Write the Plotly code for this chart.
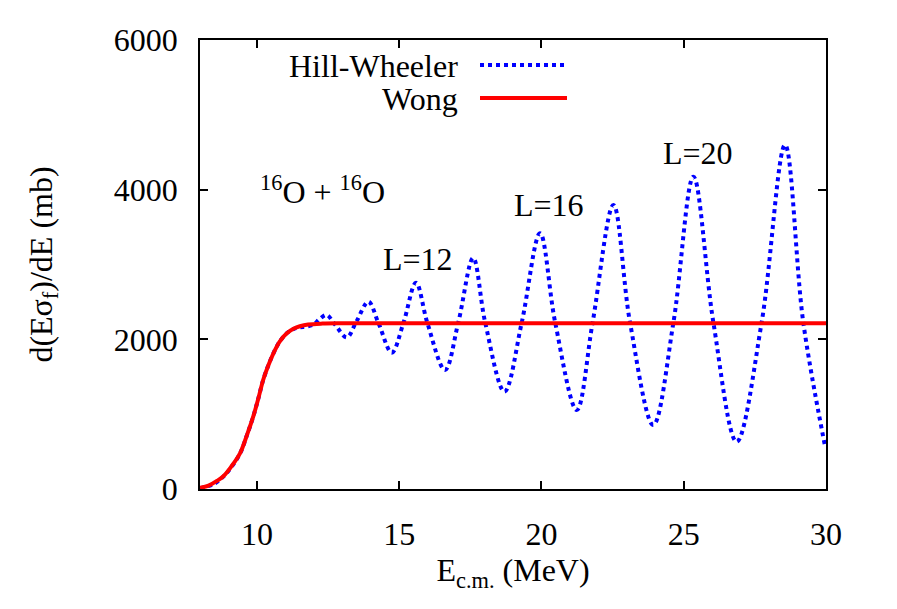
import plotly.graph_objects as go

# Hill-Wheeler (dotted blue)
hw_e = [8.0, 8.5, 8.82, 9.1, 9.41, 9.65, 9.87, 10.05, 10.22, 10.4, 10.58, 10.8, 11.05, 11.3, 11.51, 11.75,
        12.0, 12.2, 12.45, 12.74, 13.16, 13.5, 13.92, 14.27, 14.74, 15.15, 15.59, 15.99, 16.61, 17.08,
        17.6, 18.02, 18.7, 19.31, 19.95, 20.48, 21.24, 21.8, 22.53, 23.11, 23.93, 24.64, 25.34, 26.04,
        26.86, 27.74, 28.56, 29.2, 29.97]
hw_v = [10, 70, 165, 290, 477, 720, 966, 1210, 1457, 1650, 1813, 1970, 2081, 2140, 2160, 2170,
        2200, 2270, 2325, 2200, 2027, 2240, 2503, 2220, 1822, 2220, 2757, 2220, 1590, 2230,
        3087, 2230, 1300, 2230, 3417, 2230, 1056, 2230, 3795, 2230, 855, 2230, 4174, 2230,
        632, 2230, 4597, 2230, 565]

# Wong (solid red)
wong_e = [8.0, 8.3, 8.6, 8.82, 9.1, 9.41, 9.65, 9.87, 10.05, 10.22, 10.4, 10.58, 10.8, 11.05, 11.3,
          11.51, 11.8, 12.3, 13.0, 30.0]
wong_v = [15, 45, 110, 170, 300, 480, 720, 966, 1210, 1457, 1650, 1813, 1970, 2081, 2145,
          2175, 2198, 2210, 2214, 2214]

x_ticks = [10, 15, 20, 25, 30]
y_ticks = [0, 2000, 4000, 6000]

labels_text = ["L=12", "L=16", "L=20"]
labels_e = [15.66, 20.27, 25.5]
labels_v = [3074, 3795, 4490]

FONT = "Liberation Serif"
FS = 32

# plot area in page pixels (page body adds 8px offset)
PL, PR, PT, PB = 200, 826, 40, 489
OFF = 8


def px_x(px):
    return (px - PL) / (PR - PL)


def px_y(py):
    return (PB - py) / (PB - PT)


fig = go.Figure()
fig.add_trace(go.Scatter(x=hw_e, y=hw_v, mode="lines", line=dict(color="#0000ff", width=4, dash="4px,4px", shape="spline"),
                         name="Hill-Wheeler", showlegend=False))
fig.add_trace(go.Scatter(x=wong_e, y=wong_v, mode="lines", line=dict(color="#ff0000", width=4, shape="spline"),
                         name="Wong", showlegend=False))

anns = []
for t, e, v in zip(labels_text, labels_e, labels_v):
    anns.append(dict(x=e, y=v, xref="x", yref="y", text=t, showarrow=False, xanchor="center", yanchor="middle",
                     font=dict(size=FS, family=FONT, color="black")))
anns.append(dict(x=12.29, y=3990, xref="x", yref="y", text="<sup>16</sup>O + <sup>16</sup>O", showarrow=False,
                 xanchor="center", yanchor="middle", font=dict(size=FS, family=FONT, color="black")))
# legend
anns.append(dict(x=px_x(460), y=px_y(66), xref="paper", yref="paper", text="Hill-Wheeler", showarrow=False,
                 xanchor="right", yanchor="middle", font=dict(size=FS, family=FONT, color="black")))
anns.append(dict(x=px_x(460), y=px_y(99), xref="paper", yref="paper", text="Wong", showarrow=False,
                 xanchor="right", yanchor="middle", font=dict(size=FS, family=FONT, color="black")))

shapes = [
    dict(type="line", xref="paper", yref="paper", x0=px_x(480), x1=px_x(567),
         y0=px_y(65), y1=px_y(65), line=dict(color="#0000ff", width=4, dash="4px,4px")),
    dict(type="line", xref="paper", yref="paper", x0=px_x(480), x1=px_x(567),
         y0=px_y(98), y1=px_y(98), line=dict(color="#ff0000", width=4)),
]

fig.update_layout(
    width=897, height=609,
    margin=dict(l=PL - OFF, r=897 - PR + OFF, t=PT - OFF, b=609 - PB + OFF),
    paper_bgcolor="white", plot_bgcolor="white",
    font=dict(family=FONT, size=FS, color="black"),
    annotations=anns, shapes=shapes,
)
fig.update_xaxes(range=[8, 30], tickvals=x_ticks, ticks="inside", ticklen=8, tickwidth=1.5, tickcolor="black",
                 showline=True, linecolor="black", linewidth=1.5, mirror="ticks", showgrid=False, zeroline=False,
                 ticklabelstandoff=16, tickfont=dict(family=FONT, size=FS),
                 title=dict(text="E<sub>c.m.</sub> (MeV)", standoff=6, font=dict(family=FONT, size=FS)))
fig.update_yaxes(range=[0, 6000], tickvals=y_ticks, ticks="inside", ticklen=8, tickwidth=1.5, tickcolor="black",
                 showline=True, linecolor="black", linewidth=1.5, mirror="ticks", showgrid=False, zeroline=False,
                 ticklabelstandoff=14, tickfont=dict(family=FONT, size=FS),
                 title=dict(text="d(Eσ<sub>f</sub>)/dE (mb)", standoff=52, font=dict(family=FONT, size=FS)))

fig.write_html("out.html")
